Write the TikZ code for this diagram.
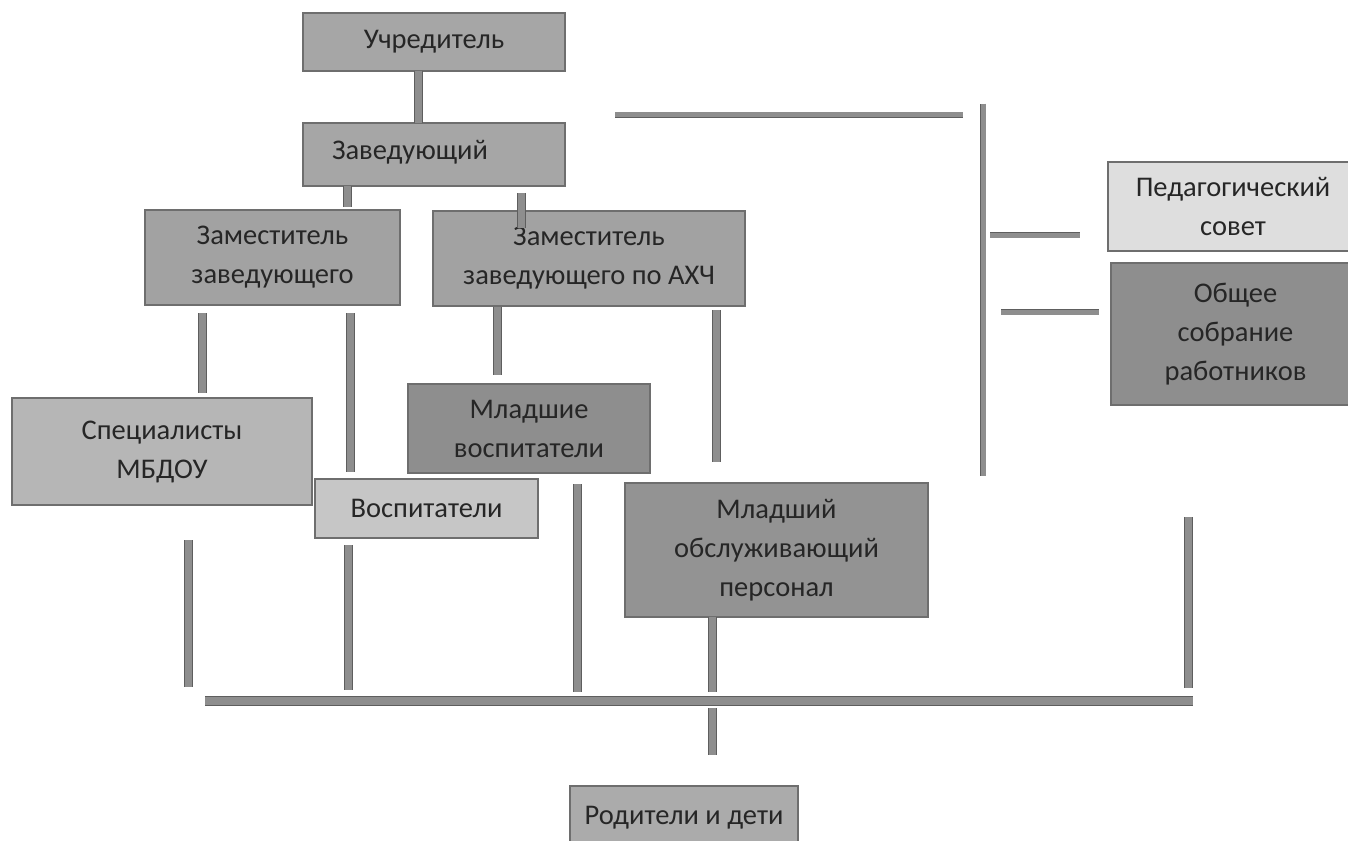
\documentclass[tikz,border=0pt]{standalone}
\usepackage{fontspec}
\setmainfont{Carlito}
\usetikzlibrary{calc}
\definecolor{boxline}{HTML}{6E6E6E}
\definecolor{txtcol}{HTML}{262626}
\definecolor{connfill}{HTML}{8E8E8E}
\definecolor{connline}{HTML}{5E5E5E}
\definecolor{gmid}{HTML}{A6A6A6}
\definecolor{gzam}{HTML}{A2A2A2}
\definecolor{gspec}{HTML}{B6B6B6}
\definecolor{gvosp}{HTML}{C6C6C6}
\definecolor{gped}{HTML}{DEDEDE}
\definecolor{gdark}{HTML}{8E8E8E}
\definecolor{gmop}{HTML}{939393}
\definecolor{grod}{HTML}{ABABAB}
\begin{document}
\begin{tikzpicture}[x=1pt,y=-1pt,
  box/.style={draw=boxline, line width=1.1pt, inner sep=0pt, align=center,
    font=\fontsize{28.5}{39}\selectfont, text=txtcol},
  txt/.style={inner sep=0pt, align=center, font=\fontsize{28.5}{39}\selectfont, text=txtcol},
  conn/.style={draw=connline, line width=1pt, double=connfill, double distance=7pt},
  bus/.style={draw=connline, line width=1pt, double=connfill, double distance=8pt},
  thin/.style={draw=connline, line width=0.8pt, double=connfill, double distance=5pt}]
\useasboundingbox (0,0) rectangle (1348,840);
\fill[white] (0,0) rectangle (1348,840);

% boxes
\node[box, fill=gmid, minimum width=262pt, minimum height=58pt] (uch) at (434,42) {Учредитель};
\node[box, fill=gmid, minimum width=262pt, minimum height=63pt] (zav) at (434,154.5) {};
\node[txt] (zavt) at (410,152) {Заведующий};
\node[box, fill=gzam, minimum width=255pt, minimum height=95pt] (zam1) at (272.5,257.5) {Заместитель\\заведующего};
\node[box, fill=gzam, minimum width=312pt, minimum height=95pt] (zam2) at (589,258.5) {Заместитель\\заведующего по АХЧ};
\node[box, fill=gspec, minimum width=300pt, minimum height=107pt] (spec) at (162,451.5) {Специалисты\\МБДОУ};
\node[box, fill=gdark, minimum width=242pt, minimum height=89pt] (mlv) at (529,428.5) {Младшие\\воспитатели};
\node[box, fill=gvosp, minimum width=223pt, minimum height=59pt] (vosp) at (426.5,508.5) {Воспитатели};
\node[box, fill=gmop, minimum width=303pt, minimum height=134pt] (mop) at (776.5,550) {Младший\\обслуживающий\\персонал};
\node[box, fill=gped, minimum width=250pt, minimum height=89pt] (ped) at (1233,206.5) {Педагогический\\совет};
\node[box, fill=gdark, minimum width=249pt, minimum height=142pt] (obs) at (1235.5,334) {Общее\\собрание\\работников};
\node[box, fill=grod, minimum width=228pt, minimum height=64pt] (rod) at (684,818) {Родители и дети};

% connectors
\coordinate (c1a) at (418,71);  \coordinate (c1b) at (418,123);
\draw[conn] (c1a) -- (c1b);
\coordinate (c2a) at (347,186); \coordinate (c2b) at (347,207);
\draw[conn] (c2a) -- (c2b);
\coordinate (c3a) at (521,193); \coordinate (c3b) at (521,228);
\draw[conn] (c3a) -- (c3b);
\coordinate (c4a) at (202,313); \coordinate (c4b) at (202,393);
\draw[conn] (c4a) -- (c4b);
\coordinate (c5a) at (350,313); \coordinate (c5b) at (350,472);
\draw[conn] (c5a) -- (c5b);
\coordinate (c6a) at (497,307); \coordinate (c6b) at (497,375);
\draw[conn] (c6a) -- (c6b);
\coordinate (c7a) at (716,310); \coordinate (c7b) at (716,462);
\draw[conn] (c7a) -- (c7b);
% stubs to bus
\coordinate (s1a) at (188,540); \coordinate (s1b) at (188,687);
\draw[conn] (s1a) -- (s1b);
\coordinate (s2a) at (348,545); \coordinate (s2b) at (348,690);
\draw[conn] (s2a) -- (s2b);
\coordinate (s3a) at (577,484); \coordinate (s3b) at (577,692);
\draw[conn] (s3a) -- (s3b);
\coordinate (s4a) at (712,617); \coordinate (s4b) at (712,692);
\draw[conn] (s4a) -- (s4b);
\coordinate (s5a) at (1188,517); \coordinate (s5b) at (1188,688);
\draw[conn] (s5a) -- (s5b);
% bus
\coordinate (busl) at (205,701); \coordinate (busr) at (1193,701);
\draw[bus] (busl) -- (busr);
\coordinate (d1a) at (712,708); \coordinate (d1b) at (712,755);
\draw[conn] (d1a) -- (d1b);
% right part
\coordinate (t1a) at (615,115); \coordinate (t1b) at (963,115);
\draw[thin] (t1a) -- (t1b);
\coordinate (v1a) at (983,104); \coordinate (v1b) at (983,476);
\draw[thin] (v1a) -- (v1b);
\coordinate (h1a) at (990,235); \coordinate (h1b) at (1080,235);
\draw[thin] (h1a) -- (h1b);
\coordinate (h2a) at (1001,312); \coordinate (h2b) at (1099,312);
\draw[thin] (h2a) -- (h2b);
\end{tikzpicture}
\end{document}
